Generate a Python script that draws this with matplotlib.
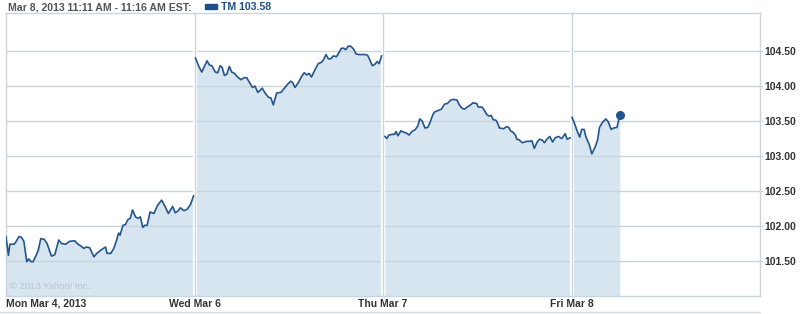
import numpy as np
import matplotlib
matplotlib.use("Agg")
import matplotlib.pyplot as plt
import matplotlib.transforms as mtransforms
from matplotlib.patches import Rectangle
from matplotlib.lines import Line2D

plt.rcParams['font.family'] = ['Liberation Sans', 'DejaVu Sans']

# minutes since open (390 min session) and price, one list per trading day
mon_t = [0, 5, 8, 17, 21, 27, 32, 37, 43, 47, 52, 56, 63, 67, 72, 79, 85, 94, 101, 109,
         115, 124, 131, 142, 149, 156, 161, 166, 173, 182, 188, 197, 206, 209, 217, 223,
         228, 233, 236, 242, 247, 252, 257, 262, 268, 273, 278, 283, 287, 292, 298, 306,
         314, 322, 329, 336, 345, 350, 355, 361, 368, 375, 382, 388]
mon_p = [101.85, 101.58, 101.74, 101.74, 101.78, 101.85, 101.84, 101.78, 101.49, 101.53,
         101.49, 101.49, 101.59, 101.66, 101.82, 101.81, 101.75, 101.57, 101.59, 101.80,
         101.75, 101.74, 101.78, 101.79, 101.74, 101.71, 101.68, 101.70, 101.69, 101.56,
         101.61, 101.66, 101.70, 101.61, 101.61, 101.68, 101.78, 101.90, 101.87, 102.01,
         102.02, 102.09, 102.11, 102.23, 102.13, 102.11, 102.13, 101.98, 102.01, 102.01,
         102.20, 102.18, 102.30, 102.37, 102.28, 102.18, 102.28, 102.19, 102.21, 102.26,
         102.22, 102.24, 102.31, 102.43]

wed_t = [2, 9, 15, 21, 26, 31, 36, 43, 48, 53, 57, 62, 67, 72, 77, 83, 89, 96, 103, 108,
         113, 120, 125, 131, 136, 140, 146, 153, 158, 163, 170, 179, 186, 192, 199, 203,
         208, 215, 221, 227, 232, 237, 242, 249, 256, 263, 268, 272, 277, 282, 287, 294,
         299, 304, 309, 313, 318, 323, 329, 334, 340, 354, 358, 361, 368, 373, 378, 382, 387]
wed_p = [104.40, 104.28, 104.20, 104.29, 104.36, 104.30, 104.29, 104.20, 104.19, 104.29,
         104.27, 104.15, 104.17, 104.28, 104.20, 104.18, 104.13, 104.09, 104.12, 104.12,
         104.06, 103.98, 104.00, 103.91, 103.94, 103.97, 103.90, 103.84, 103.83, 103.73,
         103.90, 103.91, 103.97, 104.02, 104.07, 104.05, 103.98, 104.05, 104.13, 104.19,
         104.16, 104.18, 104.13, 104.23, 104.32, 104.34, 104.39, 104.45, 104.39, 104.39,
         104.43, 104.42, 104.48, 104.54, 104.54, 104.52, 104.57, 104.57, 104.53, 104.46,
         104.45, 104.45, 104.44, 104.40, 104.29, 104.31, 104.35, 104.32, 104.43]

thu_t = [4, 8, 12, 19, 24, 27, 31, 37, 43, 48, 54, 60, 67, 72, 76, 81, 87, 93, 98, 103,
         107, 114, 121, 127, 133, 140, 146, 153, 158, 164, 169, 174, 181, 186, 194, 197,
         205, 210, 214, 219, 224, 228, 234, 237, 241, 250, 255, 260, 264, 269, 274, 277,
         282, 288, 293, 298, 304, 308, 313, 319, 324, 329, 334, 339, 345, 351, 356, 363,
         370, 377, 381, 387]
thu_p = [103.28, 103.25, 103.30, 103.31, 103.31, 103.35, 103.29, 103.36, 103.34, 103.33,
         103.30, 103.35, 103.38, 103.43, 103.53, 103.50, 103.40, 103.41, 103.49, 103.59,
         103.63, 103.65, 103.67, 103.74, 103.75, 103.80, 103.81, 103.80, 103.73, 103.68,
         103.67, 103.70, 103.73, 103.76, 103.75, 103.70, 103.70, 103.65, 103.60, 103.57,
         103.58, 103.52, 103.51, 103.47, 103.40, 103.39, 103.42, 103.41, 103.36, 103.34,
         103.30, 103.24, 103.23, 103.19, 103.20, 103.21, 103.21, 103.22, 103.11, 103.20,
         103.24, 103.23, 103.19, 103.24, 103.28, 103.20, 103.26, 103.28, 103.25, 103.32,
         103.24, 103.26]

fri_t = [1, 6, 11, 17, 21, 26, 30, 37, 42, 49, 54, 58, 64, 71, 76, 82, 87, 94, 100]
fri_p = [103.55, 103.47, 103.37, 103.27, 103.38, 103.38, 103.27, 103.16, 103.03, 103.13,
         103.23, 103.41, 103.48, 103.53, 103.49, 103.38, 103.40, 103.41, 103.58]

day_labels = ["Mon Mar 4, 2013", "Wed Mar 6", "Thu Mar 7", "Fri Mar 8"]
y_ticks = [101.5, 102.0, 102.5, 103.0, 103.5, 104.0, 104.5]
header = "Mar 8, 2013 11:11 AM - 11:16 AM EST:"
last_label = "TM 103.58"

SESSION = 390
line_col = "#24558c"
fill_col = "#d6e5f0"
grid_col = "#c8d5df"
text_col = "#333333"

fig = plt.figure(figsize=(8, 3.14), dpi=100)
ax = fig.add_axes([0.0075, 0.0573, 0.9425, 0.9027])

days = [(mon_t, mon_p), (wed_t, wed_p), (thu_t, thu_p), (fri_t, fri_p)]
for i, (t, p) in enumerate(days):
    x = np.array(t) + i * SESSION
    ax.fill_between(x, p, 100, color=fill_col, lw=0, zorder=1)
    ax.plot(x, p, color=line_col, lw=1.2, zorder=4)

# dot on the last quote
ax.plot(3 * SESSION + fri_t[-1], fri_p[-1], "o", color=line_col, ms=5.5, zorder=5)

# grid
for y in y_ticks:
    ax.axhline(y, color=grid_col, lw=1, zorder=2)
for i in range(1, 4):
    ax.axvline(i * SESSION, color="white", lw=3, zorder=2)
    ax.axvline(i * SESSION, color=grid_col, lw=1, zorder=3)

ax.set_xlim(0, 4 * SESSION)
ax.set_ylim(101.0, 105.05)

for s in ["left", "right", "bottom", "top"]:
    ax.spines[s].set_color(grid_col)
    ax.spines[s].set_linewidth(1)

ax.yaxis.tick_right()
ax.set_yticks(y_ticks)
ax.set_yticklabels(["%.2f" % v for v in y_ticks], fontsize=7.5, fontweight="bold", color=text_col)
ax.tick_params(axis="y", length=2, color=grid_col, pad=1)

# day labels: centred on the day boundary, first one left aligned
ax.set_xticks([])
trans = mtransforms.blended_transform_factory(ax.transData, fig.transFigure)
for i, lab in enumerate(day_labels):
    ax.text(i * SESSION, 1 - 304 / 314, lab, transform=trans, fontsize=7.5,
            fontweight="bold", color=text_col, va="center",
            ha="left" if i == 0 else "center", clip_on=False)

ax.text(0.005, 0.025, "\u00a9 2013 Yahoo! Inc.", transform=ax.transAxes,
        fontsize=6.8, color="#b9c5cd")

# header
fig.text(8 / 800, 1 - 7 / 314, header, fontsize=7.6, fontweight="bold",
         color="#555555", va="center", ha="left")
fig.patches.append(Rectangle((205 / 800, 1 - 9 / 314), 12 / 800, 5 / 314,
                             transform=fig.transFigure, color="#1f4f88"))
fig.text(221 / 800, 1 - 7 / 314, last_label, fontsize=7.6, fontweight="bold",
         color="#1f4f88", va="center", ha="left")

# thin line under the labels
fig.lines.append(Line2D([0, 760 / 800], [1 - 312 / 314] * 2, transform=fig.transFigure,
                        color="#d3dadf", lw=1))

fig.savefig("out.png", dpi=100)
